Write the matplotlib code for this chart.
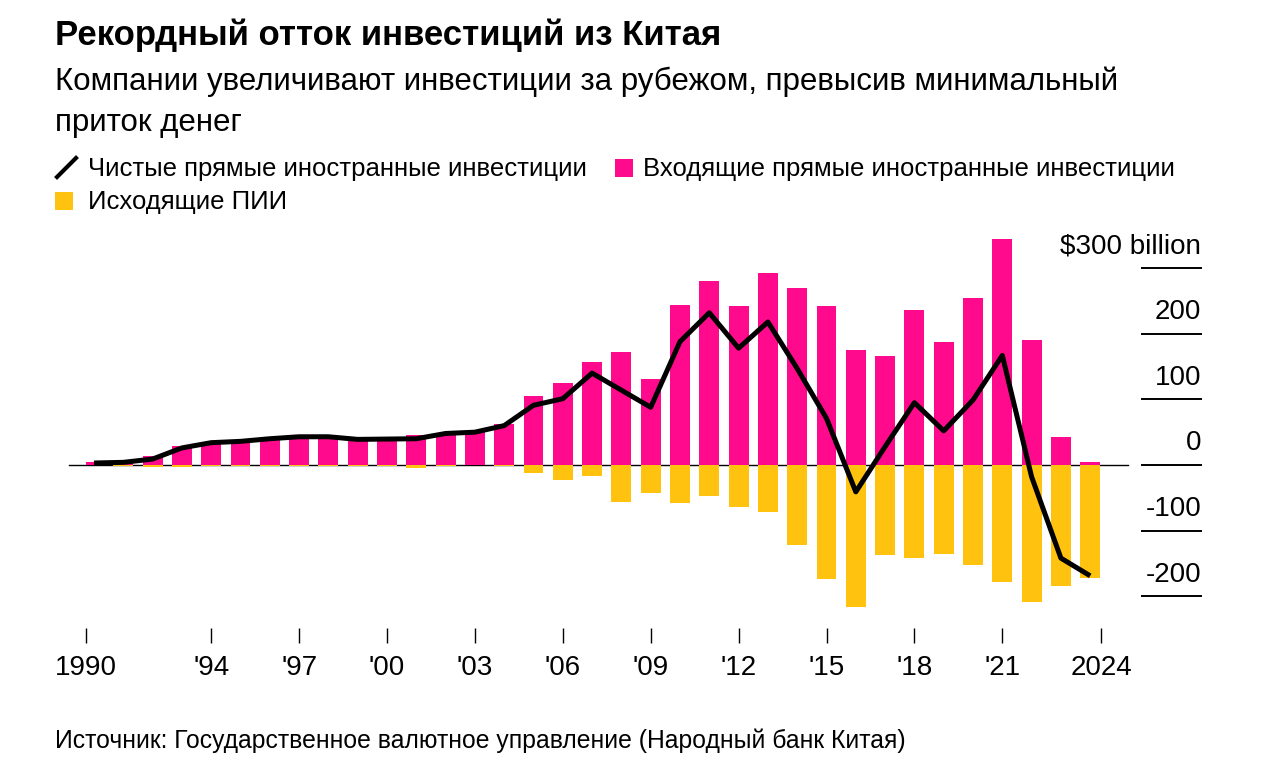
import numpy as np
import matplotlib
matplotlib.use("Agg")
import matplotlib.pyplot as plt
import matplotlib.transforms as mtransforms
from matplotlib.patches import Rectangle
from matplotlib.lines import Line2D

plt.rcParams['font.family'] = ['Liberation Sans', 'DejaVu Sans']

# данные, млрд долларов
years = np.arange(1990, 2025)
inflow = [4.5, 5, 13, 29, 35, 37, 40.5, 43.5, 43.5, 39.5,
          41, 45, 49, 49.5, 62.5, 105, 124.5, 157, 172, 131.5,
          244, 281, 242, 292, 269, 243, 175, 166.5, 236, 188,
          254, 344.5, 190.5, 43, 4.5]
outflow = [-0.8, -1, -2.5, -2.5, -1, -1, -1, -1, -1, -1,
           -1, -5, -1, -0.5, -1.5, -12.7, -23, -17, -56, -43,
           -57.5, -47.5, -64, -72, -122, -174, -216, -137, -142, -136,
           -153, -178, -209, -184, -172]
net = [3, 4, 9, 26, 34, 36, 40, 43, 43, 39,
       39.5, 40, 48, 50, 60, 91, 101, 140, 114, 88,
       188, 232, 178, 218, 147, 71, -41, 28, 95, 52,
       99, 167, -18, -142, -169]

tick_years = [1994, 1997, 2000, 2003, 2006, 2009, 2012, 2015, 2018, 2021]
tick_labels = ["'94", "'97", "'00", "'03", "'06", "'09", "'12", "'15", "'18", "'21"]
ytick_values = [300, 200, 100, 0, -100, -200]
ytick_labels = ['\\$300 billion', '200', '100', '0', '-100', '-200']

PINK = '#ff0a8c'
YELLOW = '#ffc20e'

W, H = 1280, 762


def px(x, y):
    return x / W, 1 - y / H


fig = plt.figure(figsize=(12.8, 7.62), dpi=100)
ax = fig.add_axes([0.0670, 0.17585, 0.7932, 0.5239])

ax.bar(years, inflow, width=0.68, color=PINK, zorder=2)
ax.bar(years, outflow, width=0.68, color=YELLOW, zorder=2)
ax.plot(years, net, color='black', lw=3.6, solid_joinstyle='round',
        solid_capstyle='butt', zorder=3)

x0, x1 = 1989.72, 2024.37
ax.set_xlim(x0, x1)
ax.set_ylim(-248.5, 360)

for s in ax.spines.values():
    s.set_visible(False)

ax.set_xticks([x0] + tick_years + [x1])
ax.set_xticklabels(['1990'] + tick_labels + ['2024'])
ax.tick_params(axis='x', length=11, width=1, color='black', labelsize=20,
               pad=8.5, labelcolor='black')
ax.set_yticks([])

blend = mtransforms.blended_transform_factory(ax.transAxes, ax.transData)
ax.plot([-0.0165, 1.0267], [0, 0], transform=blend, color='black', lw=1,
        clip_on=False, zorder=1)

for v, lab in zip(ytick_values, ytick_labels):
    ax.plot([1.040, 1.0985], [v, v], transform=blend, color='black', lw=1.4,
            clip_on=False)
    ax.annotate(lab, xy=(1.0985, v), xycoords=blend, xytext=(0, 10.5),
                textcoords='offset points', ha='right', va='baseline',
                fontsize=20, annotation_clip=False)

# заголовки
fig.text(*px(55, 45), 'Рекордный отток инвестиций из Китая', fontsize=25,
         fontweight='bold', ha='left', va='baseline')
fig.text(*px(55, 90), 'Компании увеличивают инвестиции за рубежом, превысив минимальный',
         fontsize=22.5, ha='left', va='baseline')
fig.text(*px(55, 131), 'приток денег', fontsize=22.5, ha='left', va='baseline')

# легенда
fig.add_artist(Line2D([px(57, 177)[0], px(76, 158)[0]], [px(57, 177)[1], px(76, 158)[1]],
                      transform=fig.transFigure, color='black', lw=3))
fig.text(*px(88, 176), 'Чистые прямые иностранные инвестиции', fontsize=18.5,
         ha='left', va='baseline')
fig.add_artist(Rectangle(px(615, 177), 18 / W, 18 / H, transform=fig.transFigure,
                         color=PINK, lw=0))
fig.text(*px(643, 176), 'Входящие прямые иностранные инвестиции', fontsize=18.5,
         ha='left', va='baseline')
fig.add_artist(Rectangle(px(55, 210), 18 / W, 18 / H, transform=fig.transFigure,
                         color=YELLOW, lw=0))
fig.text(*px(88, 209), 'Исходящие ПИИ', fontsize=18.5, ha='left', va='baseline')

fig.text(*px(55, 748), 'Источник: Государственное валютное управление (Народный банк Китая)',
         fontsize=17.8, ha='left', va='baseline')

fig.savefig('out.png', dpi=100)
